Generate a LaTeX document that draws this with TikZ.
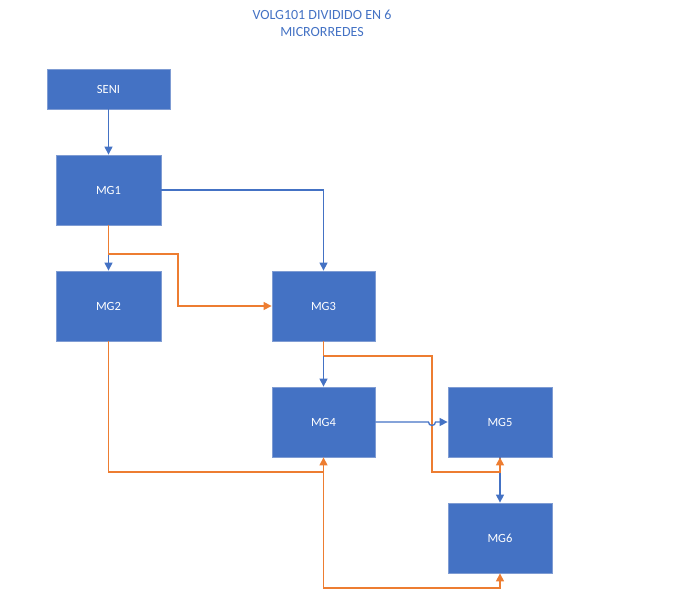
\documentclass[tikz,border=0pt]{standalone}
\usepackage{fontspec}
\setmainfont{Carlito}
\usetikzlibrary{arrows.meta}
\definecolor{boxblue}{HTML}{4472C4}
\definecolor{boxedge}{HTML}{7F9CD3}
\definecolor{lineblue}{HTML}{4472C4}
\definecolor{lineorange}{HTML}{ED7D31}
\tikzset{
  mg/.style={rectangle, fill=boxblue, draw=boxedge, line width=0.8pt, text=white, font=\fontsize{12.5}{14}\selectfont, inner sep=0pt},
  bluearrow/.style={draw=lineblue, line width=1.3pt, -{Triangle[length=8pt,width=8pt]}},
  orangearrow/.style={draw=lineorange, line width=1.3pt, -{Triangle[length=8pt,width=8pt]}},
  orangeline/.style={draw=lineorange, line width=1.3pt},
}
\begin{document}
\begin{tikzpicture}[x=1pt,y=-1pt]
\useasboundingbox (0,0) rectangle (678,602);
\node[text=boxblue, font=\fontsize{14}{17}\selectfont, align=center] (title) at (322,23) {VOLG101 DIVIDIDO EN 6\\MICRORREDES};
\node[mg, minimum width=123pt, minimum height=40pt] (seni) at (108.5,89) {SENI};
\node[mg, minimum width=105pt, minimum height=70pt] (mg1) at (108.5,190) {MG1};
\node[mg, minimum width=105pt, minimum height=70pt] (mg2) at (108.5,306) {MG2};
\node[mg, minimum width=103pt, minimum height=70pt] (mg3) at (323.5,306) {MG3};
\node[mg, minimum width=103pt, minimum height=70pt] (mg4) at (323.5,422) {MG4};
\node[mg, minimum width=104pt, minimum height=70pt] (mg5) at (500,422) {MG5};
\node[mg, minimum width=104pt, minimum height=70pt] (mg6) at (500,538) {MG6};
\coordinate (j1) at (108.5,254);
\coordinate (j2) at (323.5,356);
\coordinate (j3) at (323.5,472);
% blue connectors
\draw[bluearrow] (seni.south) -- (mg1.north);
\draw[bluearrow] (mg1.east) -| (mg3.north);
\draw[bluearrow] (mg1.south) -- (mg2.north);
\draw[bluearrow] (mg3.south) -- (mg4.north);
\draw[bluearrow] (mg5.south) -- (mg6.north);
% orange connectors
\draw[orangearrow] (mg1.south) -- (j1) -- (178,254) -- (178,306) -- (mg3.west);
\draw[orangearrow] (j2) -- (432,356) -- (432,472) -- (500,472) -- (mg5.south);
\draw[orangeline] (mg3.south) -- (j2);
\draw[orangearrow] (mg2.south) -- (108.5,472) -- (j3) -- (mg4.south);
\draw[orangearrow] (j3) -- (323.5,588) -- (500,588) -- (mg6.south);
% MG4 -> MG5 with hop
\draw[bluearrow] (mg4.east) -- (428.5,422) arc[start angle=180, end angle=0, radius=3.5] -- (mg5.west);
\end{tikzpicture}
\end{document}
